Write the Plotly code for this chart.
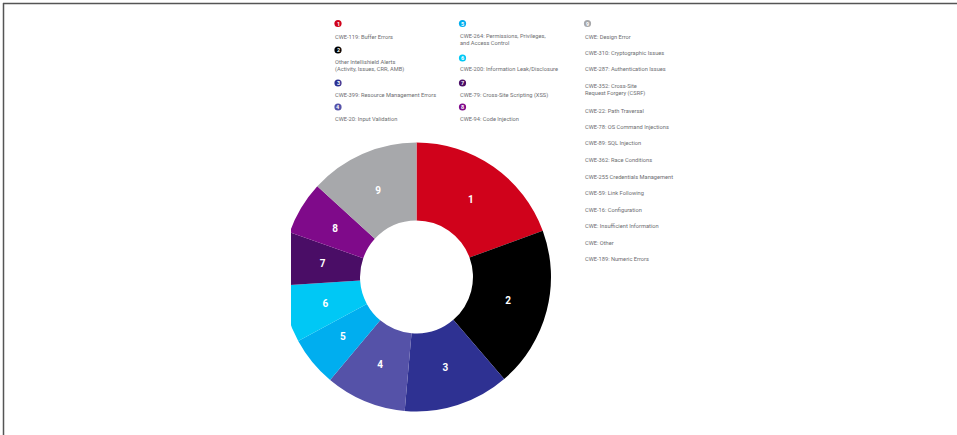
import plotly.graph_objects as go

# ---- data ----
slice_ids = ["1", "2", "3", "4", "5", "6", "7", "8", "9"]
slice_names = [
    "CWE-119: Buffer Errors",
    "Other Intellishield Alerts<br>(Activity, Issues, CRR, AMB)",
    "CWE-399: Resource Management Errors",
    "CWE-20: Input Validation",
    "CWE-264: Permissions, Privileges,<br>and Access Control",
    "CWE-200: Information Leak/Disclosure",
    "CWE-79: Cross-Site Scripting (XSS)",
    "CWE-94: Code Injection",
    "CWE: Design Error",
]
slice_values = [19.4, 19.3, 12.7, 9.7, 6.0, 6.9, 6.4, 6.4, 13.2]
slice_colors = ["#d0021b", "#000000", "#2e3192", "#5552a8", "#00aeef",
                "#00c8f5", "#4a0d66", "#7f0a8a", "#a7a8ab"]
other_labels = [
    "CWE-310: Cryptographic Issues",
    "CWE-287: Authentication Issues",
    "CWE-352: Cross-Site<br>Request Forgery (CSRF)",
    "CWE-22: Path Traversal",
    "CWE-78: OS Command Injections",
    "CWE-89: SQL Injection",
    "CWE-362: Race Conditions",
    "CWE-255 Credentials Management",
    "CWE-59: Link Following",
    "CWE-16: Configuration",
    "CWE: Insufficient Information",
    "CWE: Other",
    "CWE-189: Numeric Errors",
]

W, H = 957, 435


def px(x):
    return x / W


def py(y):
    return 1 - y / H


def domain_for(cx, cy, r):
    return dict(x=[px(cx - r), px(cx + r)], y=[py(cy + r), py(cy - r)])


FONT = "Roboto, Arial, sans-serif"
TXT = "#6d6e71"

fig = go.Figure()

cx, cy, r = 416.5, 277.0, 134.5
# coloured donut
fig.add_trace(go.Pie(
    labels=slice_ids,
    values=slice_values,
    textinfo="none",
    marker=dict(colors=slice_colors, line=dict(width=0)),
    hole=0.42,
    sort=False,
    direction="clockwise",
    rotation=0,
    showlegend=False,
    hoverinfo="label+value",
    domain=domain_for(cx, cy, r),
))
# transparent thin ring carrying the slice numbers at mid-ring radius
r_lab = 111.5
fig.add_trace(go.Pie(
    labels=slice_ids,
    values=slice_values,
    text=slice_ids,
    textinfo="text",
    textposition="inside",
    insidetextorientation="horizontal",
    textfont=dict(family=FONT, size=10, color="white", weight="bold"),
    marker=dict(colors=["rgba(0,0,0,0)"] * len(slice_ids), line=dict(width=0)),
    hole=0.7,
    sort=False,
    direction="clockwise",
    rotation=0,
    showlegend=False,
    hoverinfo="skip",
    domain=domain_for(cx, cy, r_lab),
))

shapes = []
annotations = []

# legend layout positions (pixels)
marker_pos = [(338, 23.5), (338, 50), (338, 83), (338, 107),
              (462.5, 23.5), (462.5, 58), (462.5, 83), (462.5, 107),
              (587.5, 23.5)]
text_pos = [(333, 31.5), (333, 57), (333, 90), (333, 114),
            (458, 31), (458, 64.5), (458, 90), (458, 114),
            (583, 31.5)]

for i in range(len(slice_ids)):
    mx, my = marker_pos[i]
    shapes.append(dict(type="circle", xref="paper", yref="paper",
                       xsizemode="pixel", ysizemode="pixel",
                       xanchor=px(mx), yanchor=py(my),
                       x0=-3.6, x1=3.6, y0=-3.6, y1=3.6,
                       fillcolor=slice_colors[i], line=dict(width=0)))
    annotations.append(dict(x=px(mx), y=py(my + 0.2), xref="paper", yref="paper",
                            text="<b>%s</b>" % slice_ids[i], showarrow=False,
                            xanchor="center", yanchor="middle",
                            font=dict(family=FONT, size=5.5, color="white")))
    tx, ty = text_pos[i]
    annotations.append(dict(x=px(tx), y=py(ty), xref="paper", yref="paper",
                            text=slice_names[i], showarrow=False, align="left",
                            xanchor="left", yanchor="top",
                            font=dict(family=FONT, size=5.7, color=TXT)))

other_y = [48, 64.5, 81, 105.5, 122, 138.5, 155, 171.5, 188, 204.5, 221, 237.5, 254]
for lab, y in zip(other_labels, other_y):
    annotations.append(dict(x=px(583), y=py(y), xref="paper", yref="paper",
                            text=lab, showarrow=False, align="left",
                            xanchor="left", yanchor="top",
                            font=dict(family=FONT, size=5.7, color=TXT)))

# left-side clipping of the donut
shapes.append(dict(type="rect", xref="paper", yref="paper",
                   x0=0, x1=px(291), y0=0, y1=1,
                   fillcolor="white", line=dict(width=0), layer="above"))
# frame lines (top and left)
shapes.append(dict(type="line", xref="paper", yref="paper",
                   x0=px(3), x1=1, y0=py(3.5), y1=py(3.5),
                   line=dict(color="#555555", width=1.5), layer="above"))
shapes.append(dict(type="line", xref="paper", yref="paper",
                   x0=px(3.5), x1=px(3.5), y0=py(3), y1=0,
                   line=dict(color="#555555", width=1.5), layer="above"))

fig.update_layout(
    width=W, height=H,
    margin=dict(l=0, r=0, t=0, b=0),
    paper_bgcolor="white",
    plot_bgcolor="white",
    shapes=shapes,
    annotations=annotations,
    showlegend=False,
)

fig.write_html(
    "out.html",
    config={"displayModeBar": False},
    post_script="document.body.style.margin='0px';document.body.style.overflow='hidden';",
)
